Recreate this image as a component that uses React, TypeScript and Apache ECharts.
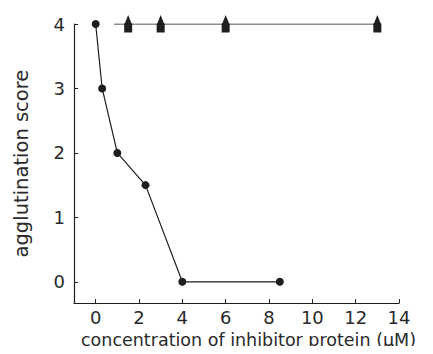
import React, { useEffect, useRef } from "react";
import * as echarts from "echarts";

const xTicks = [0, 2, 4, 6, 8, 10, 12, 14];
const yTicks = [0, 1, 2, 3, 4];
const circleX = [0, 0.3, 1, 2.3, 4, 8.5];
const circleY = [4, 3, 2, 1.5, 0, 0];
const flatLineStart = 0.85;
const flatX = [1.5, 3, 6, 13];
const flatY = [4, 4, 4, 4];

const INK = "#1e1e1e";
const TEXT = "#2a2a2a";
const FONT = "DejaVu Sans";

export default function App() {
  const ref = useRef<HTMLDivElement>(null);
  useEffect(() => {
    if (!ref.current) return;
    const chart = echarts.init(ref.current, undefined, { renderer: "svg" });
    const circleData = circleX.map((x, i) => [x, circleY[i]]);
    const flatData = flatX.map((x, i) => [x, flatY[i]]);
    chart.setOption({
      animation: false,
      backgroundColor: "#ffffff",
      grid: { left: 74, right: 34, top: 24, bottom: 46 },
      xAxis: {
        type: "value",
        min: -1,
        max: 14,
        name: "concentration of inhibitor protein (\u00b5M)",
        nameLocation: "middle",
        nameGap: 26,
        nameTextStyle: { color: TEXT, fontFamily: FONT, fontSize: 17.5, padding: [0, 0, 0, 24] },
        axisLine: { show: true, onZero: false, lineStyle: { color: INK, width: 1.2 } },
        axisTick: { show: true, inside: true, length: 4, customValues: xTicks, lineStyle: { color: INK } },
        axisLabel: { customValues: xTicks, color: TEXT, fontFamily: FONT, fontSize: 18, margin: 5 },
        splitLine: { show: false },
      },
      yAxis: {
        type: "value",
        min: -0.33,
        max: 4,
        name: "agglutination score",
        nameLocation: "middle",
        nameRotate: 90,
        nameGap: 43,
        nameTextStyle: { color: TEXT, fontFamily: FONT, fontSize: 19.5 },
        axisLine: { show: true, onZero: false, lineStyle: { color: INK, width: 1.2 } },
        axisTick: { show: true, inside: true, length: 4, customValues: yTicks, lineStyle: { color: INK } },
        axisLabel: { customValues: yTicks, color: TEXT, fontFamily: FONT, fontSize: 18, margin: 9 },
        splitLine: { show: false },
      },
      series: [
        {
          type: "line",
          data: circleData,
          symbol: "circle",
          symbolSize: 8,
          lineStyle: { color: INK, width: 1.2 },
          itemStyle: { color: INK, opacity: 1 },
        },
        {
          type: "line",
          data: [{ value: [flatLineStart, 4], symbol: "none" }, ...flatData],
          symbol: "triangle",
          symbolSize: [8, 10],
          symbolOffset: [0, -4],
          lineStyle: { color: INK, width: 1.2 },
          itemStyle: { color: INK, opacity: 1 },
        },
        {
          type: "scatter",
          data: flatData,
          symbol: "rect",
          symbolSize: [8, 9],
          symbolOffset: [0, 4],
          itemStyle: { color: INK, opacity: 1 },
        },
      ],
    });
    return () => chart.dispose();
  }, []);
  return <div ref={ref} style={{ width: 433, height: 354, margin: -8 }} />;
}
